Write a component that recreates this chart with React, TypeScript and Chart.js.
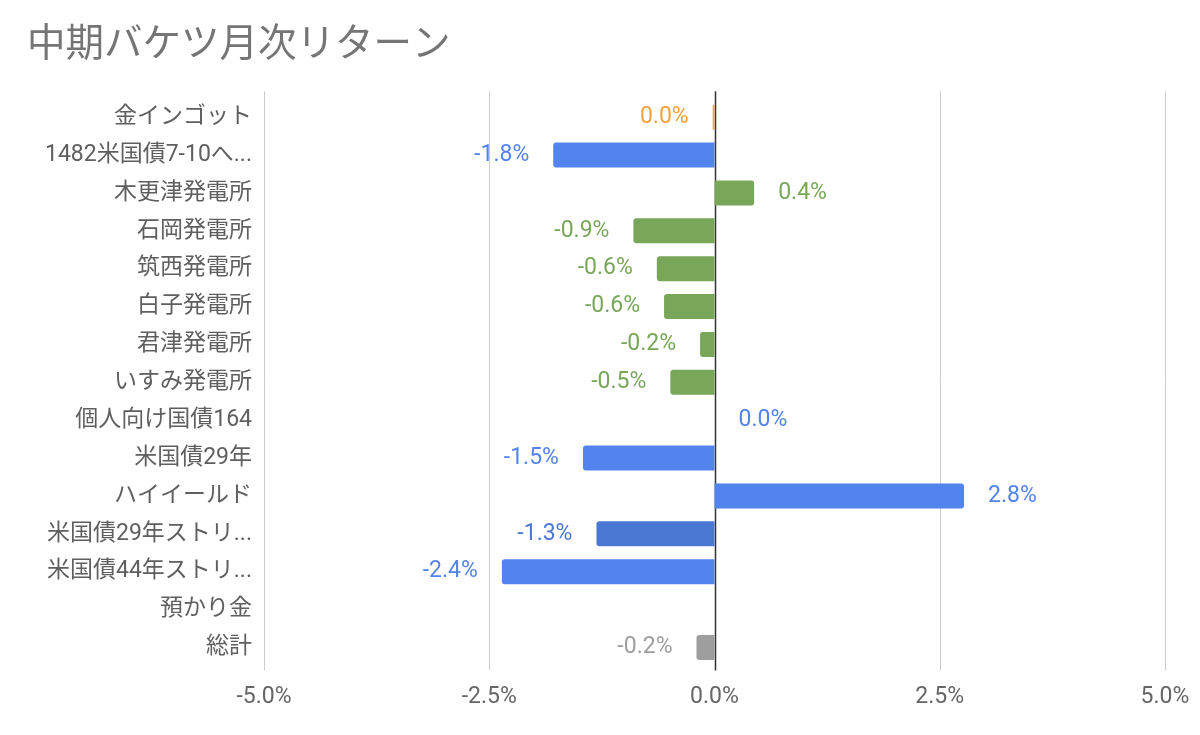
import { useEffect, useRef } from "react"
import { Chart, registerables } from "chart.js"

Chart.register(...registerables)

const categories = [
  "金インゴット",
  "1482米国債7-10へ...",
  "木更津発電所",
  "石岡発電所",
  "筑西発電所",
  "白子発電所",
  "君津発電所",
  "いすみ発電所",
  "個人向け国債164",
  "米国債29年",
  "ハイイールド",
  "米国債29年ストリ...",
  "米国債44年ストリ...",
  "預かり金",
  "総計",
]

// monthly return, %
const returns = [-0.02, -1.79, 0.44, -0.9, -0.64, -0.56, -0.16, -0.49, 0, -1.46, 2.77, -1.31, -2.36, null, -0.2]

const barColors = [
  "#f4a23a",
  "#5383ec",
  "#78a75a",
  "#78a75a",
  "#78a75a",
  "#78a75a",
  "#78a75a",
  "#78a75a",
  "#5383ec",
  "#5383ec",
  "#5383ec",
  "#4a78d2",
  "#5383ec",
  "#5383ec",
  "#9e9e9e",
]

const xTicks = [-5, -2.5, 0, 2.5, 5]

const FONT = "Roboto, 'Noto Sans CJK JP', sans-serif"

function fmt(v: number) {
  const r = Math.round(v * 10) / 10
  return (r === 0 ? 0 : r).toFixed(1) + "%"
}

export default function App() {
  const chartRef = useRef<HTMLCanvasElement>(null)
  const chartInstance = useRef<Chart | null>(null)

  useEffect(() => {
    if (!chartRef.current) return
    if (chartInstance.current) chartInstance.current.destroy()
    const ctx = chartRef.current.getContext("2d")
    if (!ctx) return

    // vertical gridlines, a bit taller than the category band
    const gridLines = {
      id: "gridLines",
      beforeDatasetsDraw(chart: Chart) {
        const c = chart.ctx
        const x = chart.scales.x
        const { top, bottom } = chart.chartArea
        c.save()
        xTicks.forEach((t) => {
          const px = Math.round(x.getPixelForValue(t)) + 0.5
          c.beginPath()
          c.strokeStyle = t === 0 ? "#333333" : "#cccccc"
          c.lineWidth = t === 0 ? 1.5 : 1
          c.moveTo(px, top - 7)
          c.lineTo(px, bottom + 4)
          c.stroke()
        })
        c.restore()
      },
    }

    // value labels next to each bar
    const valueLabels = {
      id: "valueLabels",
      afterDatasetsDraw(chart: Chart) {
        const c = chart.ctx
        const meta = chart.getDatasetMeta(0)
        c.save()
        c.font = `23px ${FONT}`
        c.textBaseline = "middle"
        meta.data.forEach((bar: any, i: number) => {
          const v = returns[i]
          if (v === null || v === undefined) return
          c.fillStyle = barColors[i]
          if (v < 0) {
            c.textAlign = "right"
            c.fillText(fmt(v), Math.min(bar.x, bar.base) - 24, bar.y)
          } else {
            c.textAlign = "left"
            c.fillText(fmt(v), Math.max(bar.x, bar.base) + 24, bar.y)
          }
        })
        c.restore()
      },
    }

    chartInstance.current = new Chart(ctx, {
      type: "bar",
      data: {
        labels: categories,
        datasets: [
          {
            data: returns,
            backgroundColor: barColors,
            borderRadius: 3,
            categoryPercentage: 1,
            barPercentage: 0.66,
          },
        ],
      },
      options: {
        indexAxis: "y",
        animation: false,
        responsive: false,
        layout: { padding: { left: 27, right: 35, top: 0, bottom: 0 } },
        plugins: {
          legend: { display: false },
          tooltip: { enabled: false },
          title: {
            display: true,
            text: "中期バケツ月次リターン",
            align: "start",
            color: "#757575",
            font: { family: FONT, size: 38.5, weight: "normal" },
            padding: { top: 23, bottom: 29 },
          },
        },
        scales: {
          x: {
            min: -5,
            max: 5,
            afterBuildTicks: (scale: any) => {
              scale.ticks = xTicks.map((v) => ({ value: v }))
            },
            afterFit: (scale: any) => {
              scale.height = 68.6
              scale.paddingLeft = 0
              scale.paddingRight = 0
            },
            grid: { display: false, drawTicks: false },
            border: { display: false },
            ticks: {
              padding: 17,
              color: "#666666",
              font: { family: FONT, size: 23 },
              callback: (v: any) => Number(v).toFixed(1) + "%",
            },
          },
          y: {
            afterFit: (scale: any) => {
              scale.width = 237
            },
            grid: { display: false, drawTicks: false },
            border: { display: false },
            ticks: {
              padding: 12,
              color: "#5f5f5f",
              font: { family: FONT, size: 23 },
            },
          },
        },
      },
      plugins: [gridLines, valueLabels],
    })

    return () => {
      if (chartInstance.current) chartInstance.current.destroy()
    }
  }, [])

  return (
    <div style={{ position: "fixed", left: 0, top: 0, width: 1200, height: 735, background: "#fff" }}>
      <canvas ref={chartRef} width={1200} height={735} style={{ width: 1200, height: 735 }} />
    </div>
  )
}
